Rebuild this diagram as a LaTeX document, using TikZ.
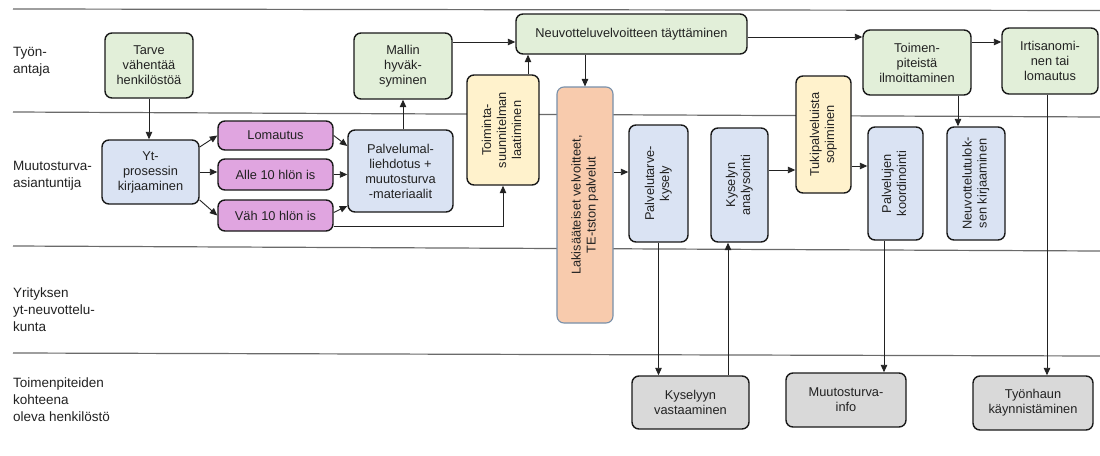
\documentclass[tikz,border=0pt]{standalone}
\usepackage{fontspec}
\setmainfont{Liberation Sans}
\usepackage{graphicx}
\usetikzlibrary{arrows.meta,calc}

\definecolor{greenfill}{HTML}{E2EFD9}
\definecolor{bluefill}{HTML}{DAE3F3}
\definecolor{pinkfill}{HTML}{E0A5E0}
\definecolor{yellowfill}{HTML}{FFF2CC}
\definecolor{orangefill}{HTML}{F8CBAD}
\definecolor{orangeedge}{HTML}{7890AA}
\definecolor{grayfill}{HTML}{D9D9D9}
\definecolor{laneline}{HTML}{6A6A6A}
\definecolor{ink}{HTML}{222222}

% text set bottom-to-top inside tall boxes
\newcommand{\uptext}[1]{\rotatebox{90}{\begin{tabular}{@{}c@{}}#1\end{tabular}}}

\begin{document}
\begin{tikzpicture}[x=1pt,y=-1pt,
  box/.style={draw=black!90, line width=1.4pt, rounded corners=7pt, align=center,
    inner sep=2pt, text=ink, font=\fontsize{12.8}{15}\selectfont},
  gbox/.style={box, fill=greenfill},
  bbox/.style={box, fill=bluefill},
  pbox/.style={box, fill=pinkfill},
  ybox/.style={box, fill=yellowfill},
  obox/.style={box, fill=orangefill, draw=orangeedge, line width=1.1pt},
  graybox/.style={box, fill=grayfill},
  lane/.style={draw=laneline, line width=1.2pt},
  lanelabel/.style={anchor=west, align=left, inner sep=0pt,
    font=\fontsize{13.5}{17}\selectfont, text=ink},
  arr/.style={draw=ink, line width=0.9pt, -{Triangle[length=7.5pt,width=6.5pt]}},
]
\useasboundingbox[fill=white] (0,0) rectangle (1100,455);

% swimlane separators
\draw[lane] (13,9) -- (1100,10.5);
\draw[lane] (13,112) -- (1100,117);
\draw[lane] (13,246) -- (1100,251);
\draw[lane] (13,353) -- (1100,356);

% lane titles
\node[lanelabel] (lab1) at (13,62) {Työn-\\antaja};
\node[lanelabel] (lab2) at (13,176) {Muutosturva-\\asiantuntija};
\node[lanelabel] (lab3) at (13,310) {Yrityksen\\yt-neuvottelu-\\kunta};
\node[lanelabel] (lab4) at (13,400) {Toimenpiteiden\\kohteena\\oleva henkilöstö};

% employer lane
\node[gbox, minimum width=88, minimum height=65] (tarve) at (149,65.5) {Tarve\\vähentää\\henkilöstöä};
\node[gbox, minimum width=98, minimum height=66] (mallin) at (403,66) {Mallin\\hyväk-\\syminen};
\node[gbox, minimum width=231, minimum height=40] (neuv) at (631.5,34) {Neuvotteluvelvoitteen täyttäminen};
\node[gbox, minimum width=108, minimum height=65] (toim) at (917,62.5) {Toimen-\\piteistä\\ilmoittaminen};
\node[gbox, minimum width=96, minimum height=66] (irti) at (1050,61) {Irtisanomi-\\nen tai\\lomautus};

% change-security expert lane
\node[bbox, minimum width=97, minimum height=64] (yt) at (150.5,172) {Yt-\\prosessin\\kirjaaminen};
\node[pbox, minimum width=115, minimum height=29] (loma) at (275.5,135.5) {Lomautus};
\node[pbox, minimum width=115, minimum height=31] (alle) at (275.5,174.5) {Alle 10 hlön is};
\node[pbox, minimum width=115, minimum height=31] (vah) at (275.5,215.5) {Väh 10 hlön is};
\node[bbox, minimum width=105, minimum height=82] (palv) at (400.5,171) {Palvelumal-\\liehdotus +\\muutosturva\\-materiaalit};
\node[ybox, minimum width=72, minimum height=110] (toiminta) at (503,130) {\uptext{Toiminta-\\suunnitelman\\laatiminen}};
\node[obox, minimum width=56, minimum height=236] (laki) at (585,205) {\uptext{Lakisääteiset velvoitteet,\\TE-tston palvelut}};
\node[bbox, minimum width=59, minimum height=117] (ptarve) at (658.5,183.5) {\uptext{Palvelutarve-\\kysely}};
\node[bbox, minimum width=57, minimum height=114] (kanal) at (739.5,185) {\uptext{Kyselyn\\analysointi}};
\node[ybox, minimum width=55, minimum height=117] (tuki) at (823.5,134.5) {\uptext{Tukipalveluista\\sopiminen}};
\node[bbox, minimum width=55, minimum height=113] (pkoord) at (895.5,183.5) {\uptext{Palvelujen\\koordinointi}};
\node[bbox, minimum width=58, minimum height=113] (ntulos) at (976,183.5) {\uptext{Neuvottelutulok-\\sen kirjaaminen}};

% staff lane
\node[graybox, minimum width=117, minimum height=53] (kvast) at (690.5,402.5) {Kyselyyn\\vastaaminen};
\node[graybox, minimum width=120, minimum height=54] (minfo) at (846,400) {Muutosturva-\\info};
\node[graybox, minimum width=120, minimum height=54] (tyonh) at (1033,403) {Työnhaun\\käynnistäminen};

% flow
\draw[arr] (tarve.south) -- (tarve.south |- yt.north);
\draw[arr] ($(yt.east)+(0,-25)$) -- (loma.west);
\draw[arr] (yt.east) -- (yt.east -| alle.west);
\draw[arr] ($(yt.east)+(0,28)$) -- (vah.west);
\draw[arr] (loma.east) -- ($(palv.west)+(0,-25)$);
\draw[arr] (alle.east) -- (alle.east -| palv.west);
\draw[arr] ($(vah.east)+(0,-3)$) -- ($(palv.west)+(0,35)$);
\draw[arr] ($(vah.east)+(0,11)$) -| (toiminta.south);
\draw[arr] (palv.north -| mallin.south) -- (mallin.south);
\draw[arr] ($(mallin.east)+(0,-24)$) coordinate (m1) -- (m1 -| neuv.west);
\draw[arr] ($(toiminta.north)+(25,0)$) coordinate (t1) -- (t1 |- neuv.south);
\draw[arr] (neuv.south -| laki.north) -- (laki.north);
\draw[arr] ($(neuv.east)+(0,3)$) coordinate (n1) -- (n1 -| toim.west);
\draw[arr] ($(toim.east)+(0,-20.5)$) coordinate (r1) -- (r1 -| irti.west);
\draw[arr] ($(laki.east)+(0,-33)$) coordinate (l1) -- (l1 -| ptarve.west);
\draw[arr] ($(kanal.east)+(0,-15)$) coordinate (k2) -- (k2 -| tuki.west);
\draw[arr] ($(tuki.east)+(0,31.5)$) coordinate (s1) -- (s1 -| pkoord.west);
\draw[arr] ($(toim.south)+(41,0)$) coordinate (t2) -- (t2 |- ntulos.north);
\draw[arr] (ptarve.south) -- (ptarve.south |- kvast.north);
\draw[arr] ($(kanal.south)+(-11.5,0)$) coordinate (k1) (k1 |- kvast.north) -- (k1);
\draw[arr] ($(pkoord.south)+(-11.5,0)$) coordinate (p1) -- (p1 |- minfo.north);
\draw[arr] ($(irti.south)+(-3,0)$) coordinate (i1) -- (i1 |- tyonh.north);
\end{tikzpicture}
\end{document}
